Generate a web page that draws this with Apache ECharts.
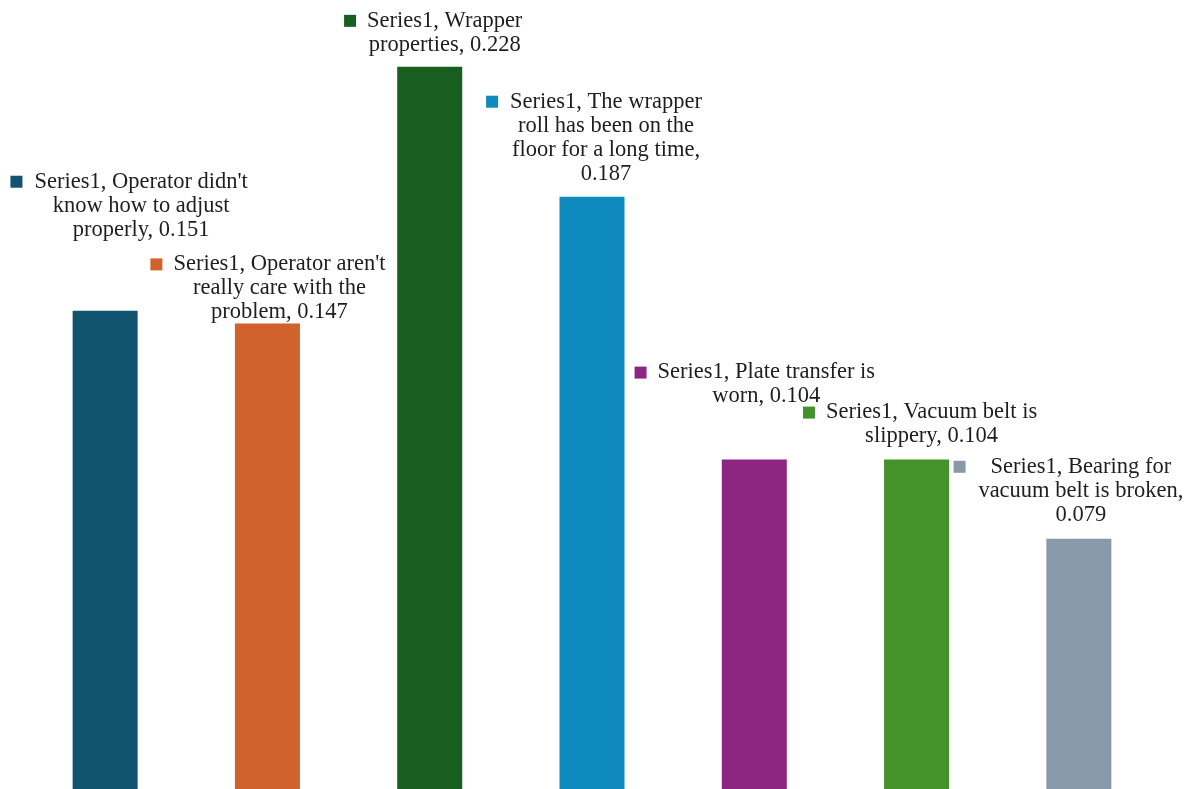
<!DOCTYPE html>
<html><head><meta charset="utf-8">
<script src="https://cdn.jsdelivr.net/npm/echarts@6/dist/echarts.min.js"></script>
<style>html,body{margin:0;padding:0;background:#fff}#c{width:1190px;height:789px}</style>
</head><body><div id="c"></div>
<script>
const categories = [
  "Operator didn't know how to adjust properly",
  "Operator aren't really care with the problem",
  "Wrapper properties",
  "The wrapper roll has been on the floor for a long time",
  "Plate transfer is worn",
  "Vacuum belt is slippery",
  "Bearing for vacuum belt is broken"
];
const values = [0.151, 0.147, 0.228, 0.187, 0.104, 0.104, 0.079];
const seriesName = "Series1";
const labelLines = [
  ["Series1, Operator didn't", "know how to adjust", "properly, 0.151"],
  ["Series1, Operator aren't", "really care with the", "problem, 0.147"],
  ["Series1, Wrapper", "properties, 0.228"],
  ["Series1, The wrapper", "roll has been on the", "floor for a long time,", "0.187"],
  ["Series1, Plate transfer is", "worn, 0.104"],
  ["Series1, Vacuum belt is", "slippery, 0.104"],
  ["Series1, Bearing for", "vacuum belt is broken,", "0.079"]
];
const colors = ['#11546F', '#D0632B', '#175E20', '#0E8ABF', '#8C2680', '#44922A', '#8899A9'];
const labelOffsets = [[36, -69], [12, 1], [15, -10], [14, -11], [12, -51], [15, -11], [2, -12]];
const markerGaps = [12, 11, 11, 12, 11, 11, 25];

const chart = echarts.init(document.getElementById('c'));
const FONT = 'Liberation Serif';
const data = values.map((v, i) => {
  const gap = markerGaps[i];
  const lines = labelLines[i].slice();
  const first = '{m' + i + '|}{g' + i + '|}{t|' + lines[0] + '}{r' + i + '|}';
  const rest = lines.slice(1).map(s => '{t|' + s + '}');
  const rich = { t: { fontFamily: FONT, fontSize: 22.5, color: '#1e1e1e', lineHeight: 24, verticalAlign: 'middle' } };
  rich['m' + i] = { width: 12, height: 12, backgroundColor: colors[i], verticalAlign: 'middle', lineHeight: 24 };
  rich['g' + i] = { width: gap, height: 12, lineHeight: 24 };
  rich['r' + i] = { width: gap + 12, height: 12, lineHeight: 24 };
  return {
    value: v,
    itemStyle: { color: colors[i] },
    label: {
      show: true,
      position: 'top',
      distance: 0,
      offset: labelOffsets[i],
      align: 'center',
      formatter: [first].concat(rest).join('\n'),
      rich: rich
    }
  };
});

chart.setOption({
  animation: false,
  grid: { left: 24, right: 30, top: 0, bottom: 0, containLabel: false },
  xAxis: {
    type: 'category', data: categories,
    axisLine: { show: false }, axisTick: { show: false }, axisLabel: { show: false }
  },
  yAxis: {
    type: 'value', min: 0, max: 0.2491,
    axisLine: { show: false }, axisTick: { show: false }, axisLabel: { show: false },
    splitLine: { show: false }
  },
  series: [{
    name: seriesName, type: 'bar', barWidth: 65, data: data
  }]
});
</script></body></html>
